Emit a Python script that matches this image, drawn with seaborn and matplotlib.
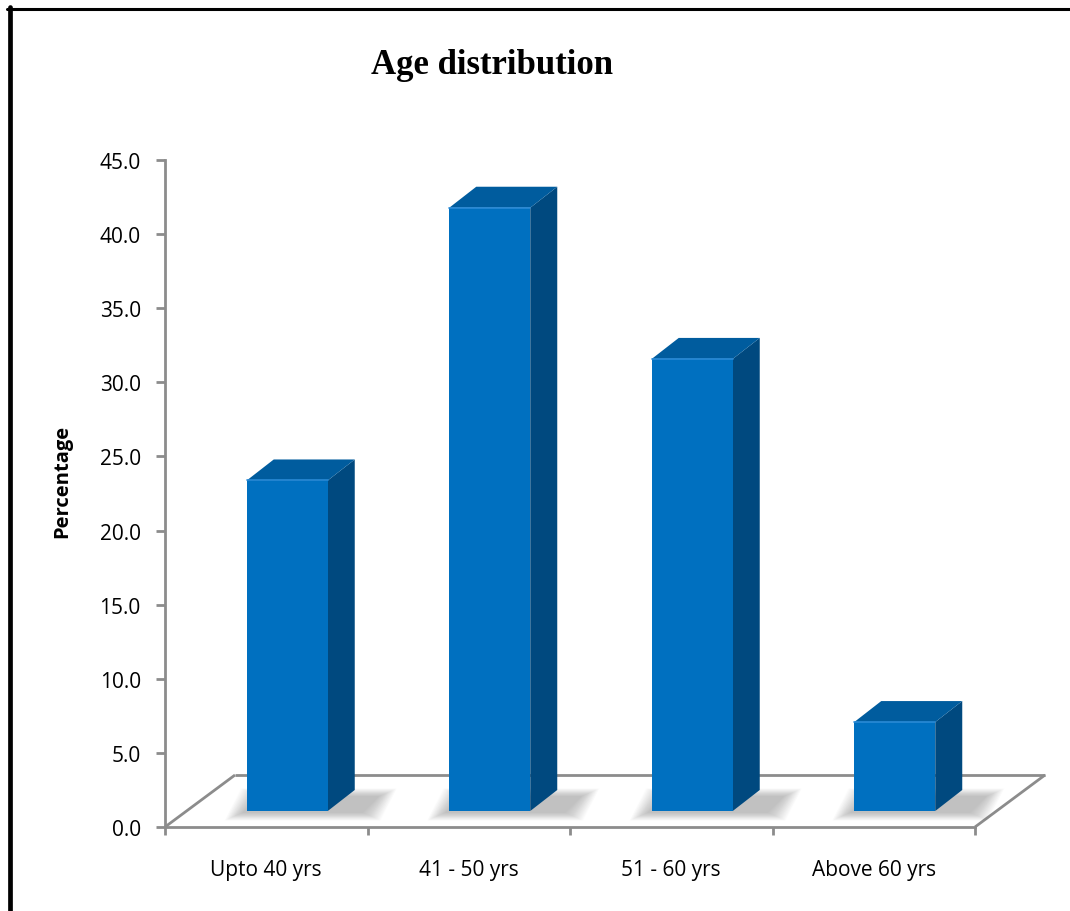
import matplotlib
matplotlib.use("Agg")
import matplotlib.pyplot as plt
from matplotlib.patches import Polygon
from matplotlib.lines import Line2D
from matplotlib.transforms import ScaledTranslation
import numpy as np
import pandas as pd
import seaborn as sns

# Data
age_groups = ["Upto 40 yrs", "41 - 50 yrs", "51 - 60 yrs", "Above 60 yrs"]
percentages = [22.3, 40.7, 30.5, 6.0]
y_ticks = [0, 5, 10, 15, 20, 25, 30, 35, 40, 45]

df = pd.DataFrame({"age_group": age_groups, "percent": percentages})

sns.set_theme(style="white")
plt.rcParams["font.family"] = ["Open Sans", "DejaVu Sans"]

FRONT = "#0070C0"
SIDE = "#00497F"
TOP = "#005C9E"
AXIS_GREY = "#8C8C8C"

W, H, DPI = 1070, 912, 100
fig = plt.figure(figsize=(W / DPI, H / DPI), dpi=DPI)
fig.patch.set_facecolor("white")
ax = fig.add_axes([165 / W, 84 / H, 810 / W, 667 / H])

sns.barplot(data=df, x="age_group", y="percent", color=FRONT, width=0.4,
            saturation=1, ax=ax, zorder=5, linewidth=0)

ax.set_xlim(-0.5, 3.5)
ax.set_ylim(0, 45)

# pixel -> data conversion for the oblique depth offsets
px_x = (810 / 4)
px_y = (667 / 45)

# floor depth and bar placement within it
floor_dx, floor_dy = 70 / px_x, 52 / px_y
bar_shift = ScaledTranslation(21 / DPI, 16 / DPI, fig.dpi_scale_trans)
bar_trans = ax.transData + bar_shift
depth_dx, depth_dy = 27 / px_x, 21 / px_y

# floor outline
floor_kw = dict(color=AXIS_GREY, lw=2.0, clip_on=False, zorder=1,
                solid_capstyle="butt")
x_left, x_right = -0.5, 3.5
ax.add_line(Line2D([x_left, x_left + floor_dx], [0, floor_dy], **floor_kw))
ax.add_line(Line2D([x_left + floor_dx, x_right + floor_dx], [floor_dy, floor_dy], **floor_kw))
ax.add_line(Line2D([x_right, x_right + floor_dx], [0, floor_dy], **floor_kw))

for p in ax.patches[:len(percentages)]:
    x0, w, h = p.get_x(), p.get_width(), p.get_height()
    p.set_transform(bar_trans)
    p.set_clip_on(False)

    # soft shadow on the floor, built from many faint layers
    cx = x0 + w / 2 + depth_dx / 2 + 10 / px_x
    cy = depth_dy / 2 - 4 / px_y
    for g in np.linspace(0, 1, 24):
        hw = (w / 2 + depth_dx / 2 + 6 / px_x) + (18 * g) / px_x
        hh = (8 + 8 * g) / px_y
        sk = depth_dx / 2
        sh = Polygon([(cx - hw - sk * 0.6, cy - hh), (cx + hw - sk * 0.6, cy - hh),
                      (cx + hw + sk * 0.6, cy + hh), (cx - hw + sk * 0.6, cy + hh)],
                     closed=True, facecolor="#808080", alpha=0.022,
                     edgecolor="none", transform=bar_trans, clip_on=False, zorder=2)
        ax.add_patch(sh)

    side = Polygon([(x0 + w, 0), (x0 + w + depth_dx, depth_dy),
                    (x0 + w + depth_dx, h + depth_dy), (x0 + w, h)],
                   closed=True, facecolor=SIDE, edgecolor="none",
                   transform=bar_trans, clip_on=False, zorder=4)
    top = Polygon([(x0, h), (x0 + w, h), (x0 + w + depth_dx, h + depth_dy),
                   (x0 + depth_dx, h + depth_dy)],
                  closed=True, facecolor=TOP, edgecolor="none",
                  transform=bar_trans, clip_on=False, zorder=6)
    ax.add_patch(side)
    ax.add_patch(top)
    # light rim along the front top edge
    ax.add_line(Line2D([x0, x0 + w], [h, h], color="#2a8ad6", lw=1.2,
                       transform=bar_trans, clip_on=False, zorder=7))

# axes styling
for s in ["top", "right"]:
    ax.spines[s].set_visible(False)
for s in ["left", "bottom"]:
    ax.spines[s].set_color(AXIS_GREY)
    ax.spines[s].set_linewidth(2.0)
    ax.spines[s].set_zorder(1)

ax.set_yticks(y_ticks)
ax.set_yticklabels([f"{v:.1f}" for v in y_ticks])
ax.tick_params(axis="y", which="major", direction="out", length=6.5, width=2,
               color=AXIS_GREY, pad=11, labelsize=15, labelcolor="black", left=True)

ax.set_xticks([-0.5, 0.5, 1.5, 2.5, 3.5])
ax.set_xticklabels([])
ax.set_xticks(range(len(age_groups)), minor=True)
ax.set_xticklabels(age_groups, minor=True)
ax.tick_params(axis="x", which="major", direction="out", length=6, width=2,
               color=AXIS_GREY, bottom=True)
ax.tick_params(axis="x", which="minor", length=0, pad=23, labelsize=15,
               labelcolor="black")

ax.set_xlabel("")
ax.set_ylabel("Percentage", fontsize=14.5, fontweight="bold", color="black")
ax.yaxis.label.set_verticalalignment("center")
ax.yaxis.set_label_coords(-0.127, 0.519)

fig.text(492 / W, 1 - 65 / H, "Age distribution", ha="center", va="center",
         family=["Liberation Serif", "DejaVu Serif"], fontweight="bold",
         fontsize=25, color="black")

# frame lines along the left and top of the figure
fig.add_artist(Line2D([9.7 / W, 9.7 / W], [0, 1 - 8 / H], color="black",
                      lw=3.4, transform=fig.transFigure))
fig.add_artist(Line2D([7.3 / W, 1], [1 - 9.5 / H, 1 - 9.5 / H], color="black",
                      lw=2.2, transform=fig.transFigure))

fig.savefig("out.png", dpi=DPI, facecolor="white")
